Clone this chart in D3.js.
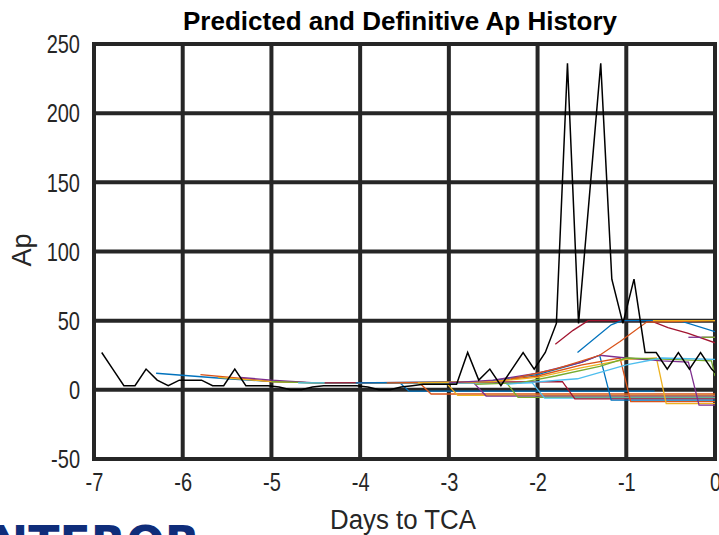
<!DOCTYPE html>
<html>
<head>
<meta charset="utf-8">
<script src="https://cdn.jsdelivr.net/npm/d3@7"></script>
<style>
  body { margin: 0; background: #fff; }
  svg { display: block; }
  text { font-family: "Liberation Sans", Arial, sans-serif; }
</style>
</head>
<body>
<svg id="chart" width="719" height="535"></svg>
<script>
var width = 719,
    height = 535;

// definitive ap, 3-hourly
var defStart = -6.913;
var defStep = 0.125;
var defAp = [27, 15, 3, 3, 15, 7, 3, 7, 7, 7, 3, 3, 15, 3, 3, 3, 2, 0, 0, 2,
             3, 3, 3, 3, 2, 0, 0, 2, 3, 4, 4, 4, 4, 27, 7, 15, 3, 15, 27, 15,
             27, 48, 236, 48, 142, 236, 80, 48, 80, 27, 27, 15, 27, 15, 27, 15, 7];

// predicted Ap runs  [day, Ap]
var forecasts = [
  [[-6.3, 12], [-5.5, 8], [-5, 6], [-4.5, 5], [-3.55, 5], [-3.45, -1], [-0.68, -1]],
  [[-5.8, 11], [-5.3, 8], [-5, 6], [-4.5, 5], [-3.33, 5], [-3.2, -3], [0, -3]],
  [[-5.6, 9], [-5, 6], [-4.5, 5], [-3.03, 5], [-2.9, -4], [0, -4]],
  [[-5.35, 9], [-5, 7], [-4.5, 5], [-2.72, 5], [-2.58, -4.5], [0, -4.5]],
  [[-5.0, 6], [-4.5, 5], [-2.35, 5], [-2.22, -5.5], [0, -5.5]],
  [[-4.7, 5], [-2.06, 5], [-1.92, -6], [0, -6]],
  [[-4.4, 5], [-1.72, 6], [-1.58, -6.5], [0, -6.5]],
  [[-4.05, 5], [-2.6, 6], [-2, 11], [-1.5, 20], [-1.3, 25], [-1.17, -7.5], [0, -7.5]],
  [[-3.7, 5], [-2.5, 6], [-2, 10], [-1.5, 18], [-1.07, 23], [-0.95, -8.5], [0, -8.5]],
  [[-3.35, 5], [-2.5, 6], [-2, 9], [-1.5, 16], [-1, 22], [-0.66, 23], [-0.55, -10], [0, -10]],
  [[-3.0, 5], [-2.5, 7], [-2, 12], [-1.5, 20], [-1.3, 25], [-1.0, 23], [-0.6, 21], [-0.3, 20], [-0.18, -11], [0, -11]],
  [[-2.7, 4], [-2.2, 5], [-1.8, 10], [-1.3, 17], [-1.0, 23], [-0.5, 22], [-0.04, 21], [0, 10]],
  [[-2.35, 4], [-1.55, 8], [-1.0, 18], [-0.6, 23], [0, 22]],
  [[-1.8, 33], [-1.6, 43], [-1.43, 50], [-0.73, 50], [-0.53, 45], [-0.31, 41], [0, 34]],
  [[-1.55, 27], [-1.17, 47], [-1.05, 50], [-0.4, 50], [0, 42]],
  [[-2.3, 8], [-1.8, 15], [-1.3, 25], [-1.07, 35], [-0.77, 49], [0, 50]],
  [[-0.7, 50], [0, 50]],
  [[-0.3, 38], [0, 38]],
  [[-0.15, 38], [0, 38]]
];

var lineColors = ['#0072BD', '#D95319', '#EDB120', '#7E2F8E', '#77AC30', '#4DBEEE', '#A2142F'];

var xTicks = [-7, -6, -5, -4, -3, -2, -1, 0];
var yTicks = [-50, 0, 50, 100, 150, 200, 250];

var margin = {left: 94, right: 4, top: 44, bottom: 76};

var x = d3.scaleLinear()
          .domain([-7, 0])
          .range([margin.left, width - margin.right]);
var y = d3.scaleLinear()
          .domain([-50, 250])
          .range([height - margin.bottom, margin.top]);

var svg = d3.select('#chart');

svg.append('defs').append('clipPath')
    .attr('id', 'plotclip')
  .append('rect')
    .attr('x', x(-7)).attr('y', y(250))
    .attr('width', x(0) - x(-7)).attr('height', y(-50) - y(250));

// grid (dark, thick) behind data
var grid = svg.append('g').classed('grid', true);
grid.selectAll('.vline')
    .data(xTicks)
    .enter()
    .append('line')
      .attr('x1', d => x(d)).attr('x2', d => x(d))
      .attr('y1', y(250) - 2).attr('y2', y(-50) + 2)
      .attr('stroke', '#262626').attr('stroke-width', 4);
grid.selectAll('.hline')
    .data(yTicks)
    .enter()
    .append('line')
      .attr('x1', x(-7)).attr('x2', x(0))
      .attr('y1', d => y(d)).attr('y2', d => y(d))
      .attr('stroke', '#262626').attr('stroke-width', 4);

var line = d3.line()
              .x(d => x(d[0]))
              .y(d => y(d[1]));

var plot = svg.append('g').attr('clip-path', 'url(#plotclip)');

plot.selectAll('.fc')
    .data(forecasts)
    .enter()
    .append('path')
      .classed('fc', true)
      .attr('fill', 'none')
      .attr('stroke', (d, i) => lineColors[i % lineColors.length])
      .attr('stroke-width', 1.3)
      .attr('d', line);

var defPts = defAp.map((v, i) => [defStart + i * defStep, v]);
plot.append('path')
    .datum(defPts)
    .attr('fill', 'none')
    .attr('stroke', '#000')
    .attr('stroke-width', 1.5)
    .attr('d', line);

// squeeze text to look like a narrow face
function narrow(sel, f) {
  sel.each(function() {
    var w = this.getComputedTextLength();
    d3.select(this)
      .attr('textLength', w * f)
      .attr('lengthAdjust', 'spacingAndGlyphs');
  });
}

// axes: tick labels only
var xAxis = svg.append('g')
    .attr('transform', 'translate(0,' + (y(-50) + 9) + ')')
    .call(d3.axisBottom(x).tickValues(xTicks).tickSize(0).tickFormat(d => String(d)));
var yAxis = svg.append('g')
    .attr('transform', 'translate(' + (x(-7) - 11) + ',0)')
    .call(d3.axisLeft(y).tickValues(yTicks).tickSize(0).tickFormat(d => String(d)));

[xAxis, yAxis].forEach(a => {
  a.select('.domain').remove();
  a.attr('font-family', null).attr('font-size', null);
  a.selectAll('text')
      .attr('fill', '#262626')
      .style('font-size', '25px');
  narrow(a.selectAll('text'), 0.8);
});
xAxis.selectAll('text').attr('dy', '0.8em');
yAxis.selectAll('text').attr('dy', '0.35em');

var title = svg.append('text')
    .attr('x', 400).attr('y', 30)
    .attr('text-anchor', 'middle')
    .style('font-weight', 'bold')
    .style('font-size', '25px')
    .attr('fill', '#000')
    .text('Predicted and Definitive Ap History');
title.attr('textLength', 434).attr('lengthAdjust', 'spacingAndGlyphs');

svg.append('text')
    .attr('x', 403).attr('y', 529)
    .attr('text-anchor', 'middle')
    .attr('textLength', 146)
    .attr('lengthAdjust', 'spacingAndGlyphs')
    .style('font-size', '27px')
    .attr('fill', '#262626')
    .text('Days to TCA');

svg.append('text')
    .attr('transform', 'translate(31,250) rotate(-90)')
    .attr('text-anchor', 'middle')
    .attr('textLength', 33)
    .attr('lengthAdjust', 'spacingAndGlyphs')
    .style('font-size', '27px')
    .attr('fill', '#262626')
    .text('Ap');

// logo peeking in at the bottom
svg.append('text')
    .attr('x', -10).attr('y', 560)
    .attr('textLength', 210)
    .attr('lengthAdjust', 'spacingAndGlyphs')
    .style('font-family', '"DejaVu Sans", sans-serif')
    .style('font-weight', 'bold')
    .style('font-size', '48px')
    .attr('fill', '#0f2d7a')
    .text('NTEROR');
</script>
</body>
</html>
